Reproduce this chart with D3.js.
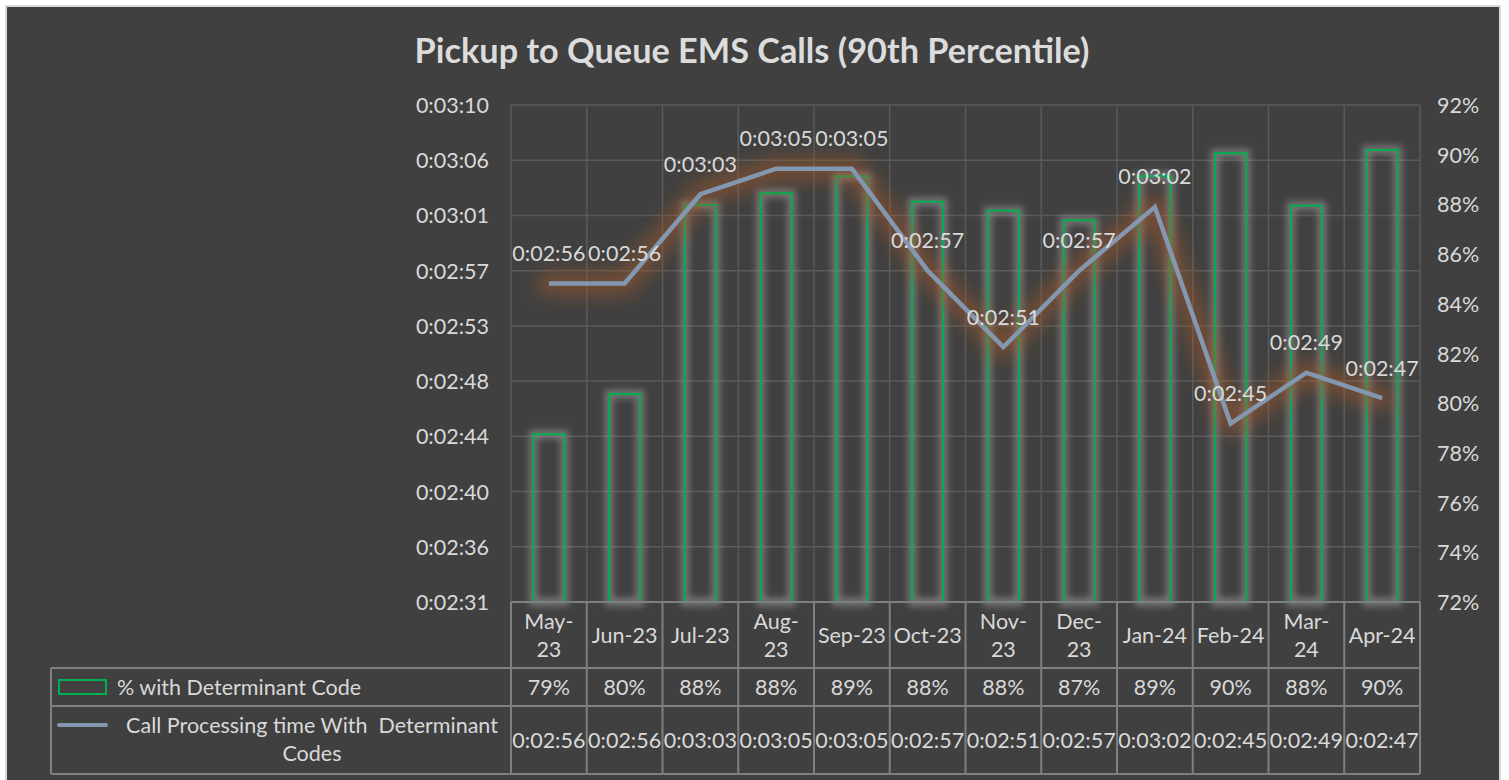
<!DOCTYPE html>
<html>
<head>
<meta charset="utf-8">
<script src="https://cdn.jsdelivr.net/npm/d3@7"></script>
<style>
  html, body { margin: 0; padding: 0; background: #ffffff; }
  svg { display: block; }
  text { font-family: Lato, "Open Sans", sans-serif; }
</style>
</head>
<body>
<svg id="chart" width="1509" height="780"></svg>
<script>
// ---------------- DATA ----------------
const categories = ["May-23","Jun-23","Jul-23","Aug-23","Sep-23","Oct-23","Nov-23","Dec-23","Jan-24","Feb-24","Mar-24","Apr-24"];
// % with Determinant Code (bars, right axis)
const pctDeterminant = [0.7875, 0.8037, 0.8798, 0.8845, 0.8913, 0.8811, 0.8775, 0.8736, 0.8914, 0.9006, 0.8795, 0.9019];
// Call processing time with determinant codes, in seconds (line, left axis)
const callSeconds = [176, 176, 183, 185, 185, 177, 171, 177, 182, 165, 169, 167];
// Axis tick labels
const leftTickLabels = ["0:02:31","0:02:36","0:02:40","0:02:44","0:02:48","0:02:53","0:02:57","0:03:01","0:03:06","0:03:10"];
const leftDomain = [151, 190];
const rightDomain = [0.72, 0.92];
const rightTickCount = 11;
const title = "Pickup to Queue EMS Calls (90th Percentile)";
const seriesNames = ["% with Determinant Code", "Call Processing time With  Determinant Codes"];
const seriesName2Lines = ["Call Processing time With  Determinant", "Codes"];

// ---------------- STYLE ----------------
const BG = "#404040", TXT = "#d9d9d9", GRID = "#5a5a5a", TBL = "#7f7f7f";
const GREEN = "#00b050", LINE = "#8497b0", GLOW = "#a65a2a";
const FS = 21.5;

const svg = d3.select("#chart");
const defs = svg.append("defs");
const fLine = defs.append("filter").attr("id","lineGlow").attr("x","-20%").attr("y","-50%").attr("width","140%").attr("height","200%");
fLine.append("feGaussianBlur").attr("stdDeviation", 9);
const fBar = defs.append("filter").attr("id","barGlow").attr("x","-50%").attr("y","-10%").attr("width","200%").attr("height","120%");
fBar.append("feGaussianBlur").attr("stdDeviation", 3.5);

// chart frame
svg.append("rect").attr("x",6).attr("y",6).attr("width",1494).attr("height",800)
  .attr("fill",BG).attr("stroke","#d9d9d9").attr("stroke-width",2);

// plot geometry
const L = 511, R = 1420, T = 105, B = 602;
const x = d3.scaleBand().domain(categories).range([L, R]).padding(0);
const xBar = d3.scaleBand().domain(categories).range([L, R]).paddingInner(0.59).paddingOuter(0.295);
const yL = d3.scaleLinear().domain(leftDomain).range([B, T]);
const yR = d3.scaleLinear().domain(rightDomain).range([B, T]);
const leftTickVals = leftTickLabels.map((d,i) => leftDomain[0] + i*(leftDomain[1]-leftDomain[0])/(leftTickLabels.length-1));
const rightTickVals = d3.range(rightTickCount).map(i => rightDomain[0] + i*(rightDomain[1]-rightDomain[0])/(rightTickCount-1));
const fmtTime = s => { s = Math.round(s); const h = Math.floor(s/3600), m = Math.floor((s%3600)/60), sec = s%60;
  return h + ":" + String(m).padStart(2,"0") + ":" + String(sec).padStart(2,"0"); };
const fmtPct = d3.format(".0%");

// gridlines
const grid = svg.append("g");
grid.selectAll("line.h").data(leftTickVals).join("line")
  .attr("x1",L).attr("x2",R).attr("y1",d=>yL(d)).attr("y2",d=>yL(d))
  .attr("stroke",GRID).attr("stroke-width",1.5);
grid.selectAll("line.v").data(d3.range(categories.length+1)).join("line")
  .attr("x1",i=> i<categories.length ? x(categories[i]) : R).attr("x2",i=> i<categories.length ? x(categories[i]) : R)
  .attr("y1",T).attr("y2",B).attr("stroke",GRID).attr("stroke-width",1.5);

// left axis
const axL = svg.append("g").attr("transform",`translate(${L-22},0)`)
  .call(d3.axisLeft(yL).tickValues(leftTickVals).tickFormat((d,i)=>leftTickLabels[i]).tickSize(0).tickPadding(0));
axL.select(".domain").remove();
axL.selectAll("text").attr("fill",TXT).attr("font-size",FS).attr("font-family","Lato").attr("dy","0.35em");
// right axis
const axR = svg.append("g").attr("transform",`translate(${R+17},0)`)
  .call(d3.axisRight(yR).tickValues(rightTickVals).tickFormat(fmtPct).tickSize(0).tickPadding(0));
axR.select(".domain").remove();
axR.selectAll("text").attr("fill",TXT).attr("font-size",FS).attr("font-family","Lato").attr("dy","0.35em");

// bars: glow + outline
const bars = svg.append("g");
bars.selectAll("rect.glow").data(pctDeterminant).join("rect")
  .attr("x",(d,i)=>xBar(categories[i])).attr("width",xBar.bandwidth())
  .attr("y",d=>yR(d)).attr("height",d=>B-yR(d))
  .attr("fill","none").attr("stroke","#a0a0a0").attr("stroke-opacity",0.6).attr("stroke-width",8)
  .attr("filter","url(#barGlow)");
bars.selectAll("rect.bar").data(pctDeterminant).join("rect")
  .attr("x",(d,i)=>xBar(categories[i])).attr("width",xBar.bandwidth())
  .attr("y",d=>yR(d)).attr("height",d=>B-yR(d))
  .attr("fill",BG).attr("fill-opacity",0).attr("stroke",GREEN).attr("stroke-width",2);

// line: glow + line
const cx = i => x(categories[i]) + x.bandwidth()/2;
const lineGen = d3.line().x((d,i)=>cx(i)).y(d=>yL(d));
svg.append("path").datum(callSeconds).attr("d",lineGen).attr("fill","none")
  .attr("stroke",GLOW).attr("stroke-opacity",0.5).attr("stroke-width",24).attr("stroke-linejoin","round")
  .attr("stroke-linecap","round").attr("filter","url(#lineGlow)");
svg.append("path").datum(callSeconds).attr("d",lineGen).attr("fill","none")
  .attr("stroke",LINE).attr("stroke-width",4.5).attr("stroke-linejoin","miter");

// data labels
svg.append("g").selectAll("text").data(callSeconds).join("text")
  .attr("x",(d,i)=>cx(i)).attr("y",d=>yL(d)-30).attr("dy","0.35em")
  .attr("text-anchor","middle").attr("fill",TXT).attr("font-size",FS).text(d=>fmtTime(d));

// title
const tt = svg.append("text").attr("x",752).attr("y",63).attr("text-anchor","middle")
  .attr("fill","#dcdcdc").attr("font-weight","bold").attr("font-size",30).text(title);
const tw = tt.node().getComputedTextLength();
tt.attr("font-size", 30*675/tw);

// ---------------- DATA TABLE ----------------
const rowH = [B, 668, 706, 774];
const tbl = svg.append("g");
const TL = 51;
// horizontal lines
tbl.append("line").attr("x1",L).attr("x2",R).attr("y1",rowH[0]).attr("y2",rowH[0]).attr("stroke",TBL).attr("stroke-width",2);
[1,2,3].forEach(k => tbl.append("line").attr("x1",TL).attr("x2",R).attr("y1",rowH[k]).attr("y2",rowH[k]).attr("stroke",TBL).attr("stroke-width",2));
// vertical lines
tbl.selectAll("line.cv").data(d3.range(categories.length+1)).join("line")
  .attr("x1",i=> i<categories.length ? x(categories[i]) : R).attr("x2",i=> i<categories.length ? x(categories[i]) : R)
  .attr("y1",rowH[0]).attr("y2",rowH[3]).attr("stroke",TBL).attr("stroke-width",2);
tbl.append("line").attr("x1",TL).attr("x2",TL).attr("y1",rowH[1]).attr("y2",rowH[3]).attr("stroke",TBL).attr("stroke-width",2);

// header category labels (wrap at hyphen when too wide)
const hdr = tbl.append("g");
categories.forEach((c,i) => {
  const t = hdr.append("text").attr("x",cx(i)).attr("text-anchor","middle").attr("fill",TXT).attr("font-size",FS);
  t.text(c);
  const w = t.node().getComputedTextLength();
  const mid = (rowH[0]+rowH[1])/2;
  if (w > x.bandwidth() - 6) {
    const parts = c.split("-");
    t.text(null);
    t.append("tspan").attr("x",cx(i)).attr("y",mid-14).attr("dy","0.35em").text(parts[0]+"-");
    t.append("tspan").attr("x",cx(i)).attr("y",mid+14).attr("dy","0.35em").text(parts[1]);
  } else {
    t.attr("y",mid).attr("dy","0.35em");
  }
});
// row 1 values
tbl.append("g").selectAll("text").data(pctDeterminant).join("text")
  .attr("x",(d,i)=>cx(i)).attr("y",(rowH[1]+rowH[2])/2).attr("dy","0.35em")
  .attr("text-anchor","middle").attr("fill",TXT).attr("font-size",FS).text(d=>fmtPct(d));
// row 2 values
tbl.append("g").selectAll("text").data(callSeconds).join("text")
  .attr("x",(d,i)=>cx(i)).attr("y",(rowH[2]+rowH[3])/2).attr("dy","0.35em")
  .attr("text-anchor","middle").attr("fill",TXT).attr("font-size",FS).text(d=>fmtTime(d));

// legend keys
tbl.append("rect").attr("x",59).attr("y",680).attr("width",47).attr("height",14)
  .attr("fill","none").attr("stroke",GREEN).attr("stroke-width",2);
tbl.append("text").attr("x",117).attr("y",(rowH[1]+rowH[2])/2).attr("dy","0.35em")
  .attr("fill",TXT).attr("font-size",FS).text(seriesNames[0]);
tbl.append("line").attr("x1",59).attr("x2",106).attr("y1",725).attr("y2",725)
  .attr("stroke",LINE).attr("stroke-width",4).attr("stroke-linecap","round");
const lt = tbl.append("text").attr("text-anchor","middle").attr("fill",TXT).attr("font-size",FS)
  .style("white-space","pre");
lt.append("tspan").attr("x",312).attr("y",725).attr("dy","0.35em").text(seriesName2Lines[0]);
lt.append("tspan").attr("x",312).attr("y",753).attr("dy","0.35em").text(seriesName2Lines[1]);
</script>
</body>
</html>
